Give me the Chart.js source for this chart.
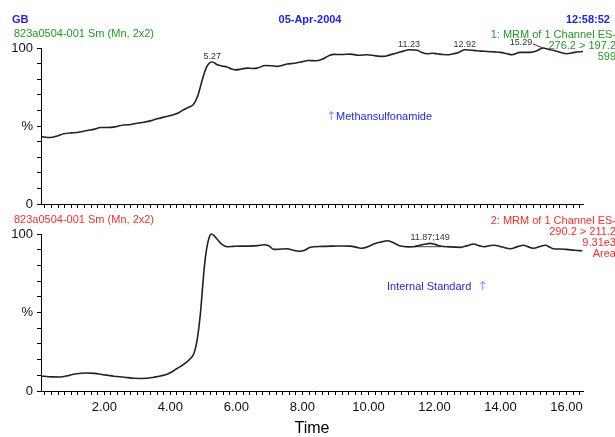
<!DOCTYPE html>
<html><head><meta charset="utf-8">
<script src="https://cdn.jsdelivr.net/npm/chart.js@4"></script>
<style>
html,body{margin:0;padding:0;background:#fff;}
#wrap{position:relative;width:615px;height:437px;overflow:hidden;font-family:"Liberation Sans",Arial,sans-serif;}
canvas{position:absolute;left:0;top:0;}
.t{position:absolute;font-size:11px;line-height:12px;white-space:nowrap;transform:translateY(-50%);}
.r{transform:translate(-100%,-50%);}
.c{transform:translate(-50%,-50%);}
.b{font-weight:bold;color:#2020ff;}
.g{color:#1f9a1f;}
.red{color:#ff2a2a;}
.bl{color:#2424ff;}
.ar{color:#8c8cff;font-family:"DejaVu Sans",sans-serif;font-size:12px;}
</style></head>
<body><div id="wrap">
<canvas id="c1" width="615" height="437"></canvas>
<canvas id="c2" width="615" height="437"></canvas>
<div class="t b" style="left:12px;top:19px">GB</div>
<div class="t b c" style="left:310px;top:19px">05-Apr-2004</div>
<div class="t b r" style="left:610px;top:19px">12:58:52</div>
<div class="t g" style="left:14px;top:33px">823a0504-001 Sm (Mn, 2x2)</div>
<div class="t g r" style="left:616px;top:34px">1: MRM of 1 Channel ES-</div>
<div class="t g r" style="left:616px;top:45px">276.2 &gt; 197.2</div>
<div class="t g r" style="left:616px;top:56px">599</div>
<div class="t red" style="left:14px;top:219px">823a0504-001 Sm (Mn, 2x2)</div>
<div class="t red r" style="left:616px;top:220px">2: MRM of 1 Channel ES-</div>
<div class="t red r" style="left:616px;top:231px">290.2 &gt; 211.2</div>
<div class="t red r" style="left:616px;top:242px">9.31e3</div>
<div class="t red r" style="left:616px;top:253px">Area</div>
<div class="t bl" style="left:326px;top:116px"><span class="ar">↑</span>Methansulfonamide</div>
<div class="t bl" style="left:387px;top:286px">Internal Standard&nbsp;&nbsp;<span class="ar">↑</span></div>
</div>
<script>
// ---- data ----
const topTimes = [0.08,0.36,0.6,0.77,1.0,1.17,1.48,1.7,1.88,2.1,2.28,2.58,2.8,2.99,3.2,3.39,3.6,3.8,4.0,4.2,4.4,4.55,4.68,4.76,4.84,4.91,5.0,5.06,5.16,5.27,5.42,5.55,5.72,5.85,5.97,6.15,6.32,6.5,6.63,6.88,7.05,7.23,7.4,7.54,7.75,7.94,8.19,8.4,8.6,8.8,8.95,9.2,9.45,9.7,9.96,10.2,10.46,10.65,10.87,11.05,11.23,11.48,11.6,11.78,11.95,12.08,12.25,12.38,12.55,12.69,12.92,13.19,13.4,13.6,13.8,14.0,14.2,14.35,14.6,14.9,15.1,15.29,15.45,15.6,15.8,16.0,16.25,16.5];
const topValues = [43.2,42.6,43.8,45.0,45.6,45.8,47.1,48.0,49.0,49.0,49.3,50.6,51.0,51.8,52.4,53.3,54.6,55.7,56.7,58.0,60.4,62.0,63.5,66,70,75.3,82,86,89.9,91,89.3,88.5,87.8,86.5,86,86.5,87.1,86.9,87.1,88.8,88.6,88.2,89.0,89.7,90.2,91,92,91.8,92.8,95.0,95.9,95.8,96.1,95.4,95.7,95.0,94.6,95.6,96.8,98.0,98.9,98.5,97.3,96.3,96.6,96.3,95.8,95.7,96.2,96.8,98.9,98.5,98.0,97.8,97.5,97.2,96.3,95.7,97.2,97.2,98.2,100,99.2,98.5,97.3,96.3,97.2,97.8];
const botTimes = [0.08,0.4,0.67,0.9,1.07,1.3,1.48,1.7,1.88,2.1,2.28,2.6,2.89,3.1,3.29,3.5,3.7,3.9,4.05,4.2,4.35,4.5,4.62,4.69,4.75,4.81,4.86,4.91,4.96,5.01,5.06,5.11,5.17,5.24,5.32,5.42,5.55,5.72,5.9,6.12,6.42,6.65,6.83,6.98,7.13,7.35,7.54,7.7,7.89,8.05,8.24,8.6,8.95,9.2,9.45,9.65,9.8,10.0,10.16,10.4,10.57,10.75,10.97,11.2,11.37,11.55,11.7,11.87,12.02,12.18,12.45,12.79,13.0,13.19,13.35,13.5,13.65,13.8,14.05,14.3,14.5,14.7,14.85,15.0,15.2,15.36,15.5,15.6,15.8,16.0,16.25,16.48];
const botValues = [9.6,9.0,8.9,9.8,10.7,11.3,11.5,11.2,10.7,10.0,9.4,8.8,8.1,8.0,8.1,8.8,9.6,10.7,12.3,14.3,16.2,18.5,21.0,22.8,26.5,32.4,40,49.4,62,74.9,85,91.9,97.5,100,99,96.6,93.5,91.9,92.1,92.3,92.3,92.6,93.2,92.5,90.2,90.4,90.6,89.8,89.0,89.5,91.5,92.1,92.3,92.4,92.3,91.5,90.9,92.0,93.6,95.0,95.7,94.5,92.3,91.8,91.9,92.8,93.5,94.0,93.4,92.3,91.8,91.5,92.6,93.6,92.6,91.9,92.5,92.8,91.7,90.6,91.8,92.8,91.8,90.9,92.0,92.8,91.5,90.6,90.4,90.2,89.6,89.3];
const botBaseTimes = [11.4, 12.2];
const botBaseValues = [91.9, 91.9];
const topPeakTimes = [5.27, 11.23, 12.92, 15.29];
const topPeakValues = [91, 98.9, 98.9, 100];
const topPeakLabels = ['5.27', '11.23', '12.92', '15.29'];
const botPeakTimes = [11.87];
const botPeakValues = [94.0];
const botPeakLabels = ['11.87;149'];
const yTickLabels = {0: '0', 50: '%', 100: '100'};
const xMin = 0.08, xMax = 16.5;

Chart.defaults.font.family = '"Liberation Sans", Arial, sans-serif';
Chart.defaults.color = '#111';

const pts = (xs, ys) => xs.map((x, i) => ({x, y: ys[i]}));
const xLabel = v => { const r = Math.round(v); return (Math.abs(v - r) < 1e-6 && r % 2 === 0 && r > 0) ? r.toFixed(2) : ''; };

function peakPlugin(times, values, labels, leftShiftIdx) {
  return {
    id: 'peaks',
    afterDatasetsDraw(chart) {
      const {ctx, scales: {x, y}} = chart;
      ctx.save();
      ctx.font = '9px "Liberation Sans", Arial, sans-serif';
      ctx.fillStyle = '#333';
      ctx.strokeStyle = '#333';
      ctx.lineWidth = 1;
      ctx.textAlign = 'center';
      ctx.textBaseline = 'bottom';
      times.forEach((t, i) => {
        const px = x.getPixelForValue(t), py = y.getPixelForValue(values[i]);
        if (i === leftShiftIdx) {
          ctx.fillText(labels[i], px - 22, py - 0.5);
          ctx.beginPath(); ctx.moveTo(px - 10, py - 4); ctx.lineTo(px, py); ctx.stroke();
        } else {
          ctx.fillText(labels[i], px, py - 1);
        }
      });
      ctx.restore();
    }
  };
}

function makeChart(id, datasets, top, bottomPad, xHeight, showLabels, plugin) {
  return new Chart(document.getElementById(id), {
    type: 'line',
    data: {datasets},
    options: {
      responsive: false, animation: false,
      layout: {padding: {left: 0, right: 32, top: top, bottom: bottomPad}},
      plugins: {legend: {display: false}, tooltip: {enabled: false}},
      elements: {point: {radius: 0}},
      scales: {
        x: {
          type: 'linear', min: xMin, max: xMax,
          afterFit: s => { s.height = xHeight; },
          grid: {drawOnChartArea: false, drawTicks: true, tickLength: 4, color: '#000'},
          border: {display: true, color: '#000', width: 1},
          ticks: {stepSize: 0.2, includeBounds: false, autoSkip: false, maxRotation: 0,
                  padding: 5, font: {size: 13}, color: '#111',
                  callback: v => showLabels ? xLabel(v) : ''},
          title: {display: showLabels, text: 'Time', font: {size: 16, lineHeight: 1}, padding: 0, color: '#000'}
        },
        y: {
          min: 0, max: 100,
          afterFit: s => { s.width = 41; },
          grid: {drawOnChartArea: false, drawTicks: true, tickLength: 4, color: '#000'},
          border: {display: true, color: '#000', width: 1},
          ticks: {stepSize: 10, autoSkip: false, padding: 4, font: {size: 13}, color: '#111',
                  callback: v => (yTickLabels[v] !== undefined ? yTickLabels[v] : '')}
        }
      }
    },
    plugins: [plugin]
  });
}

const lineStyle = {borderColor: '#222', borderWidth: 1.6, tension: 0.4, cubicInterpolationMode: 'monotone', fill: false, clip: false};

makeChart('c1', [Object.assign({data: pts(topTimes, topValues)}, lineStyle)],
  48, 437 - 204 - 10, 10, false, peakPlugin(topPeakTimes, topPeakValues, topPeakLabels, 3));

makeChart('c2', [
    Object.assign({data: pts(botTimes, botValues)}, lineStyle),
    {data: pts(botBaseTimes, botBaseValues), borderColor: '#444', borderWidth: 1, fill: false, tension: 0, clip: false}
  ],
  234, 0, 437 - 391, true, peakPlugin(botPeakTimes, botPeakValues, botPeakLabels, -1));
</script>
</body></html>
